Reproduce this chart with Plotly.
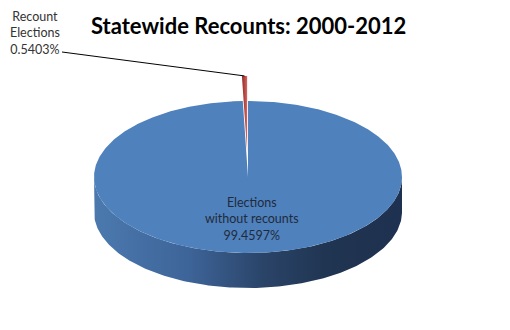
import numpy as np
import plotly.graph_objects as go

# ---- data ----
categories = ["Elections<br>without recounts", "Recount<br>Elections"]
values = [99.4597, 0.5403]
value_labels = ["99.4597%", "0.5403%"]
colors_top = ["#4f81bd", "#c0504d"]
title = "Statewide Recounts: 2000-2012"

# ---- geometry (layout, pixel-like coordinates) ----
CX, CY = 248, 177
RX, RY = 154, 76
THICK = 35
EXPLODE = [0.0, 0.33]

total = sum(values)
fractions = [v / total for v in values]


def pt(phi, cx=CX, cy=CY, r=1.0):
    return cx + RX * r * np.sin(phi), cy - RY * r * np.cos(phi)


fig = go.Figure()

# front side band of the pie (visible part from 3 o'clock to 9 o'clock)
phis = np.linspace(np.pi / 2, 3 * np.pi / 2, 200)
xt, yt = pt(phis)
xb, yb = pt(phis[::-1], cy=CY + THICK)
fig.add_trace(go.Scatter(
    x=np.concatenate([xt, xb, xt[:1]]),
    y=np.concatenate([yt, yb, yt[:1]]),
    mode="lines", line=dict(width=0), fill="toself",
    fillgradient=dict(type="horizontal",
                      colorscale=[[0, "#4b79ae"], [0.3, "#3e659a"],
                                  [0.55, "#2a4468"], [0.75, "#203552"],
                                  [1, "#1e3150"]]),
    hoverinfo="skip", showlegend=False))

# top faces of slices, starting at 12 o'clock, clockwise
start = 0.0
tips = []
for i, f in enumerate(fractions):
    a0 = start * 2 * np.pi
    a1 = (start + f) * 2 * np.pi
    am = (a0 + a1) / 2
    ox = RX * EXPLODE[i] * np.sin(am)
    oy = -RY * EXPLODE[i] * np.cos(am)
    cx, cy = CX + ox, CY + oy
    ph = np.linspace(a0, a1, max(int(f * 600), 8))
    xa, ya = pt(ph, cx=cx, cy=cy)
    xs = np.concatenate([[cx], xa, [cx]])
    ys = np.concatenate([[cy], ya, [cy]])
    kw = dict(fillcolor=colors_top[i])
    if i == 1:
        kw = dict(fillgradient=dict(type="horizontal",
                                    colorscale=[[0, "#8e2f2c"], [0.5, "#b5443f"],
                                                [1, "#d06a66"]]))
    fig.add_trace(go.Scatter(x=xs, y=ys, mode="lines", line=dict(width=0),
                             fill="toself", hoverinfo="skip",
                             showlegend=False, **kw))
    tips.append(pt(am, cx=cx, cy=cy))
    start += f

# leader line from outside label to the exploded slice tip
LABEL_END = (62, 52)
tx, ty = tips[1]
fig.add_trace(go.Scatter(x=[LABEL_END[0], tx], y=[LABEL_END[1], ty],
                         mode="lines", line=dict(color="black", width=1),
                         hoverinfo="skip", showlegend=False))

fig.add_annotation(x=35, y=33, xref="x", yref="y",
                   text=categories[1] + "<br>" + value_labels[1],
                   showarrow=False, font=dict(family="Lato", size=12.5, color="#333333"),
                   align="center")
fig.add_annotation(x=252, y=218.5, xref="x", yref="y",
                   text=categories[0] + "<br>" + value_labels[0],
                   showarrow=False, font=dict(family="Lato", size=12.5, color="#1f2b3c"),
                   align="center")
fig.add_annotation(x=248, y=25, xref="x", yref="y", text="<b>" + title + "</b>",
                   showarrow=False, font=dict(family="Lato", size=22, color="black"))

fig.update_xaxes(range=[0, 510], visible=False, fixedrange=True)
fig.update_yaxes(range=[330, 0], visible=False, fixedrange=True)
fig.update_layout(width=510, height=330, margin=dict(l=0, r=0, t=0, b=0),
                  paper_bgcolor="white", plot_bgcolor="white")

fig.write_html("out.html")
